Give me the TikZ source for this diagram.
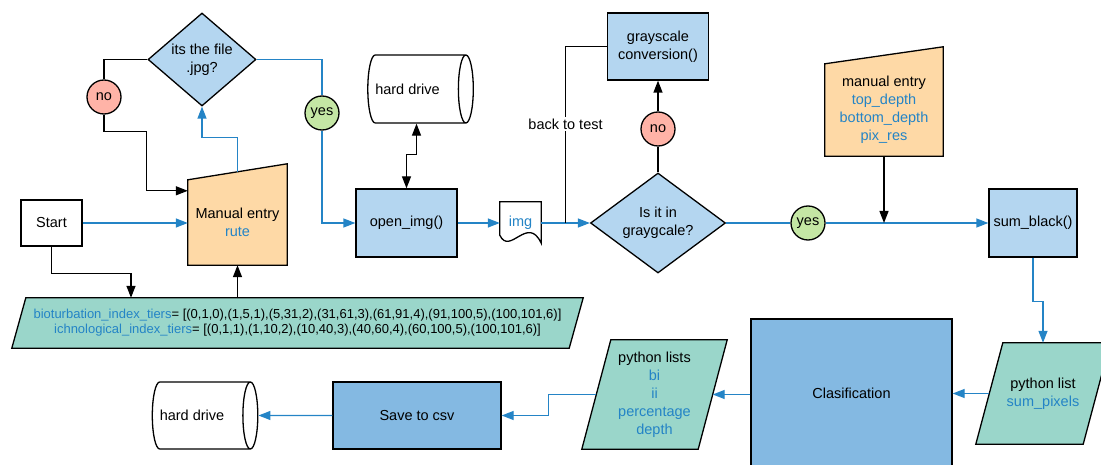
\documentclass[tikz,border=0pt]{standalone}
\usepackage{fontspec}
\setmainfont{Liberation Sans}
\usetikzlibrary{shapes.geometric, arrows.meta, calc, backgrounds}

\definecolor{procblue}{RGB}{180,214,240}
\definecolor{heavyblue}{RGB}{132,185,226}
\definecolor{entryorange}{RGB}{254,217,166}
\definecolor{listteal}{RGB}{154,214,202}
\definecolor{flowblue}{RGB}{36,132,198}
\definecolor{nored}{RGB}{255,179,167}
\definecolor{yesgreen}{RGB}{196,230,164}

\newcommand{\blu}[1]{\textcolor{flowblue}{#1}}

\begin{document}
\begin{tikzpicture}[
        x=1pt, y=-1pt,
        >={Triangle[length=12pt,width=9pt]},
        font=\fontsize{14.5}{18}\selectfont,
        edgeline/.style={line width=1.3pt},
        terminal/.style={draw, rectangle, edgeline, fill=white, align=center},
        process/.style={draw, rectangle, edgeline, fill=procblue, align=center, inner sep=1pt},
        heavy/.style={draw, rectangle, edgeline, fill=heavyblue, align=center},
        decision/.style={draw, diamond, edgeline, fill=procblue, align=center, inner sep=0pt, aspect=1.2},
        answer/.style={draw, circle, edgeline, minimum size=34pt, inner sep=0pt},
        storage/.style={draw, cylinder, edgeline, fill=white, aspect=1.4, align=center, inner sep=0pt},
        holder/.style={rectangle, align=center, inner sep=0pt},
        wire/.style={line width=1.3pt},
        link/.style={draw=flowblue, line width=1.3pt},
        flow/.style={link, ->}
    ]
        \useasboundingbox (0,0) rectangle (1101,465);

        % Top row
        \node[terminal, minimum width=61pt, minimum height=46pt] (start) at (51.5,223) {Start};
        \node[holder, minimum width=99pt, minimum height=85pt] (rute) at (237.5,222.5) {Manual entry\\\blu{rute}};
        \node[decision, minimum width=108pt, minimum height=93pt] (jpgtest) at (202,59.5) {its the file\\.jpg?};
        \node[answer, fill=nored] (nojpg) at (104,97) {no};
        \node[answer, fill=yesgreen] (yesjpg) at (322,113) {yes};
        \node[storage, minimum width=68pt, minimum height=101pt] (drivein) at (416.5,89) {hard drive\hspace*{18pt}};
        \node[process, minimum width=101pt, minimum height=68pt] (openimg) at (406.5,223) {open\_img()};
        \node[holder, minimum width=41pt, minimum height=41pt] (img) at (520.5,222.5) {\blu{img}};
        \node[decision, minimum width=135pt, minimum height=100pt] (graytest) at (658,223) {Is it in\\graygcale?};
        \node[answer, fill=nored] (nogray) at (658,129) {no};
        \node[process, minimum width=101pt, minimum height=67pt] (grayconv) at (658,46.5) {grayscale\\conversion()};
        \node[answer, fill=yesgreen] (yesgray) at (808,223) {yes};
        \node[holder, minimum width=118pt, minimum height=92pt] (depths) at (884,110) {manual entry\\\blu{top\_depth}\\\blu{bottom\_depth}\\\blu{pix\_res}};
        \node[process, minimum width=88pt, minimum height=68pt] (sumblack) at (1033,223) {sum\_black()};

        % Tier tables
        \node[holder, minimum width=571pt, minimum height=50pt, font=\fontsize{13}{15}\selectfont] (tiers) at (297.5,323)
            {\blu{bioturbation\_index\_tiers}= [(0,1,0),(1,5,1),(5,31,2),(31,61,3),(61,91,4),(91,100,5),(100,101,6)]\\
             \blu{ichnological\_index\_tiers}= [(0,1,1),(1,10,2),(10,40,3),(40,60,4),(60,100,5),(100,101,6)]};

        % Bottom row
        \node[holder, minimum width=134pt, minimum height=101pt] (sumlist) at (1043,393.5) {python list\\\blu{sum\_pixels}};
        \node[heavy, minimum width=201pt, minimum height=148pt] (clasif) at (851.5,393) {Clasification};
        \node[holder, minimum width=145pt, minimum height=109pt] (pylists) at (654.5,394.5) {python lists\\\blu{bi}\\\blu{ii}\\\blu{percentage}\\\blu{depth}};
        \node[heavy, minimum width=168pt, minimum height=67pt] (savecsv) at (417,415.5) {Save to csv};
        \node[storage, minimum width=67pt, minimum height=102pt] (driveout) at (201,415.5) {hard drive\hspace*{18pt}};

        % Outlines of the input, document and list shapes
        \begin{scope}[on background layer]
            \draw[edgeline, fill=entryorange] (rute.south west) -- (rute.south east) -- ($(rute.north east)+(0,-16)$) -- (rute.north west) -- cycle;
            \draw[edgeline, fill=entryorange] (depths.south west) -- (depths.south east) -- ($(depths.north east)+(0,-17)$) -- (depths.north west) -- cycle;
            \draw[edgeline, fill=white] (img.north west) -- (img.north east) -- (img.south east)
                .. controls ($(img.south west)+(28,-29)$) and ($(img.south west)+(10,13)$) .. ($(img.south west)+(0,-8)$) -- cycle;
            \draw[edgeline, fill=listteal] ($(tiers.north west)+(14,0)$) -- (tiers.north east) -- ($(tiers.south east)+(-14,0)$) -- (tiers.south west) -- cycle;
            \draw[edgeline, fill=listteal] ($(sumlist.north west)+(27,0)$) -- (sumlist.north east) -- ($(sumlist.south east)+(-27,0)$) -- (sumlist.south west) -- cycle;
            \draw[edgeline, fill=listteal] ($(pylists.north west)+(29,0)$) -- (pylists.north east) -- ($(pylists.south east)+(-29,0)$) -- (pylists.south west) -- cycle;
        \end{scope}

        % Arrows
        \draw[wire] (jpgtest.west) -| (nojpg.north);
        \draw[wire, ->] (nojpg.south) -- ++(0,17) -| ($(rute.north west)+(-41,11)$) -- ($(rute.north west)+(0,11)$);
        \draw[flow] (start.east) -- (start.east -| rute.west);
        \draw[wire, ->] (start.south) -- ++(0,27) -| ($(tiers.north)+(-166.5,0)$);
        \draw[wire, ->] (rute.south |- tiers.north) -- (rute.south);
        \draw[flow] ($(rute.north)+(0,-8)$) -- ++(0,-34) -| (jpgtest.south);
        \draw[link] (jpgtest.east) -| (yesjpg.north);
        \draw[flow] (yesjpg.south) |- (openimg.west);
        \draw[wire, <->] (openimg.north) -- ++(0,-34) -| (drivein.south);
        \draw[flow] (openimg.east) -- (openimg.east -| img.west);
        \draw[flow] (img.east |- graytest.west) -- (graytest.west);

        % Loop back from the conversion
        \coordinate (backjoin) at ($(img.east |- graytest.west)!0.5!(graytest.west)$);
        \draw[wire] (grayconv.west) -| (backjoin) node[pos=0.72, fill=white, inner sep=2pt] {back to test};
        \draw[wire] (graytest.north) -- (nogray.south);
        \draw[wire, ->] (nogray.north) -- (grayconv.south);

        \draw[link] (graytest.east) -- (yesgray.west);
        \draw[flow] (yesgray.east) -- (sumblack.west);
        \draw[wire, ->] (depths.south) -- (depths.south |- sumblack.west);
        \draw[flow] (sumblack.south) -- ++(0,44) -| (sumlist.north);
        \draw[flow] ($(sumlist.west)+(13.5,0)$) -- (clasif.east |- sumlist.west);
        \draw[flow] (clasif.west |- pylists.east) -- ($(pylists.east)+(-14.5,0)$);
        \draw[flow] ($(pylists.west)+(14.5,0)$) -- ++(-48,0) |- (savecsv.east);
        \draw[flow] (savecsv.west) -- (driveout.east);

    \end{tikzpicture}
\end{document}
